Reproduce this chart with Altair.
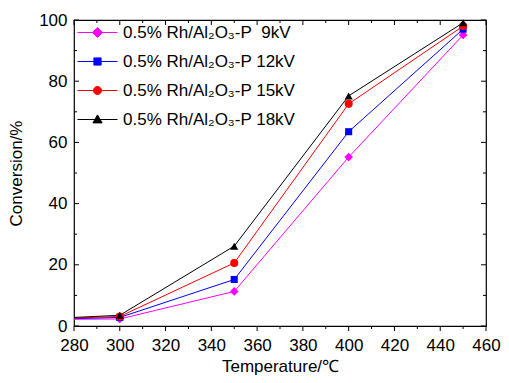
import altair as alt
import pandas as pd

# ---- data ----
series = ["0.5% Rh/Al₂O₃-P\u00a0\u00a09kV", "0.5% Rh/Al₂O₃-P 12kV",
          "0.5% Rh/Al₂O₃-P 15kV", "0.5% Rh/Al₂O₃-P 18kV"]
temperature = [300, 350, 400, 450]
conv_9kV = [2.3, 11.3, 55.2, 95.1]
conv_12kV = [2.8, 15.2, 63.5, 97.0]
conv_15kV = [3.1, 20.6, 72.6, 98.0]
conv_18kV = [3.5, 26.1, 75.2, 99.1]
start_temp = 280
start_conv = [2.2, 2.4, 2.6, 2.8]

colors = ["#FF00FF", "#0000FF", "#FF0000", "#000000"]
shapes = ["diamond", "square", "circle", "triangle-up"]
legend_paths = [
    "M-1,0H1M0,-0.25L0.25,0L0,0.25L-0.25,0Z",
    "M-1,0H1M-0.18,-0.18H0.18V0.18H-0.18Z",
    "M-1,0H1M-0.2,0A0.2,0.2,0,1,0,0.2,0A0.2,0.2,0,1,0,-0.2,0Z",
    "M-1,0H1M0,-0.23L0.23,0.17H-0.23Z",
]

x_major = [280, 300, 320, 340, 360, 380, 400, 420, 440, 460]
x_minor = [290, 310, 330, 350, 370, 390, 410, 430, 450]
y_major = [0, 20, 40, 60, 80, 100]
y_minor = [10, 30, 50, 70, 90]

W, H = 412, 306
FONT = "Liberation Sans"

all_conv = [conv_9kV, conv_12kV, conv_15kV, conv_18kV]
pts = pd.DataFrame([
    {"T": t, "C": c, "series": s, "order": i}
    for s, vals in zip(series, all_conv)
    for i, (t, c) in enumerate(zip(temperature, vals), start=1)
])
starts = pd.DataFrame([
    {"T": start_temp, "C": c, "series": s, "order": 0}
    for s, c in zip(series, start_conv)
])
lines_df = pd.concat([starts, pts], ignore_index=True)

xs = alt.Scale(domain=[280, 460], nice=False, zero=False)
ys = alt.Scale(domain=[0, 100], nice=False)

X = alt.X("T:Q", scale=xs, axis=alt.Axis(values=x_major, title="Temperature/℃"))
Y = alt.Y("C:Q", scale=ys, axis=alt.Axis(values=y_major, title="Conversion/%"))

def leg():
    return alt.Legend(orient="none", legendX=3, legendY=-8, title=None,
                      labelFont=FONT, labelFontSize=17, labelColor="black", labelLimit=0,
                      labelOffset=5, rowPadding=-0.5,
                      symbolSize=1600, symbolStrokeWidth=1, symbolOpacity=1)

legend_layer = alt.Chart(pts).mark_point(filled=True, opacity=0, size=1600).encode(
    x=X, y=Y,
    fill=alt.Fill("series:N", scale=alt.Scale(domain=series, range=colors), legend=leg()),
    stroke=alt.Stroke("series:N", scale=alt.Scale(domain=series, range=colors), legend=leg()),
    shape=alt.Shape("series:N", scale=alt.Scale(domain=series, range=legend_paths), legend=leg()),
)

lines = alt.Chart(lines_df).mark_line(strokeWidth=1, clip=True).encode(
    x="T:Q", y="C:Q",
    color=alt.Color("series:N", scale=alt.Scale(domain=series, range=colors), legend=None),
    order="order:Q",
)

point_layers = []
for s, col, shp in zip(series, colors, shapes):
    sz = {"diamond": 75, "square": 50, "circle": 65, "triangle-up": 65}[shp]
    point_layers.append(
        alt.Chart(pts).transform_filter(alt.datum.series == s)
        .mark_point(filled=True, shape=shp, color=col, size=sz, opacity=1)
        .encode(x="T:Q", y="C:Q")
    )

def vdf(v):
    return pd.DataFrame({"v": v})

tick_layers = []
for vals, L in ((y_major, 5), (y_minor, 3)):
    tick_layers.append(alt.Chart(vdf(vals)).mark_rule(color="black", strokeWidth=1).encode(
        y="v:Q", x=alt.value(0), x2=alt.value(L)))
    tick_layers.append(alt.Chart(vdf(vals)).mark_rule(color="black", strokeWidth=1).encode(
        y="v:Q", x=alt.value(W - L), x2=alt.value(W)))
for vals, L in ((x_major, 5), (x_minor, 3)):
    tick_layers.append(alt.Chart(vdf(vals)).mark_rule(color="black", strokeWidth=1).encode(
        x="v:Q", y=alt.value(0), y2=alt.value(L)))
    tick_layers.append(alt.Chart(vdf(vals)).mark_rule(color="black", strokeWidth=1).encode(
        x="v:Q", y=alt.value(H), y2=alt.value(H + L)))

chart = alt.layer(legend_layer, lines, *point_layers, *tick_layers).properties(
    width=W, height=H,
    autosize=alt.AutoSizeParams(type="none"),
    padding={"left": 66, "top": 12, "right": 15, "bottom": 49},
).configure_view(
    stroke="black", strokeWidth=1.2
).configure_axis(
    ticks=False, domain=False, grid=False, labelFlush=False,
    labelFont=FONT, labelFontSize=17, labelColor="black",
    titleFont=FONT, titleFontSize=17, titleColor="black", titleFontWeight="normal",
).configure_axisX(
    labelPadding=11, titlePadding=5,
).configure_axisY(
    labelPadding=7, titlePadding=13,
)

chart.save("out.html", embed_options={"renderer": "svg", "actions": False})
